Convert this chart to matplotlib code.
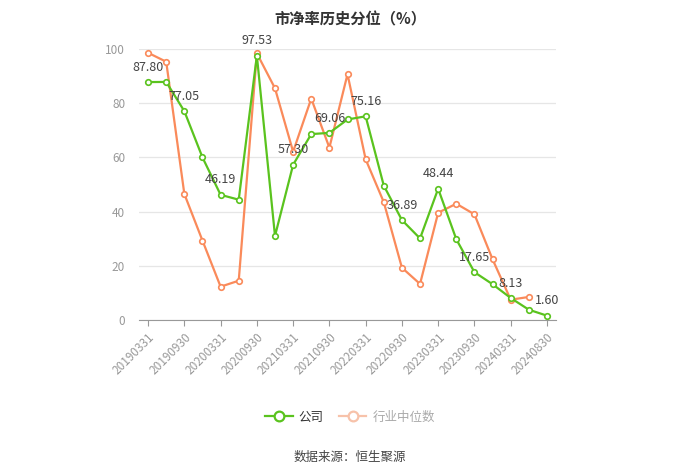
import numpy as np
import matplotlib
matplotlib.use("Agg")
import matplotlib.pyplot as plt
from matplotlib.lines import Line2D

plt.rcParams['font.family'] = ['Noto Sans CJK SC', 'DejaVu Sans']

dates = ["20190331", "20190630", "20190930", "20191231", "20200331", "20200630",
         "20200930", "20201231", "20210331", "20210630", "20210930", "20211231",
         "20220331", "20220630", "20220930", "20221231", "20230331", "20230630",
         "20230930", "20231231", "20240331", "20240630", "20240830"]
company = [87.80, 87.85, 77.05, 60.0, 46.19, 44.4, 97.53, 31.0, 57.30, 68.6, 69.06,
           74.0, 75.16, 49.6, 36.89, 30.1, 48.44, 29.8, 17.65, 13.2, 8.13, 3.8, 1.60]
industry = [98.6, 95.3, 46.5, 29.3, 12.3, 14.5, 98.4, 85.5, 62.1, 81.7, 63.6,
            90.7, 59.3, 43.5, 19.3, 13.3, 39.6, 42.9, 39.0, 22.4, 7.5, 8.5, np.nan]

green = "#5ac31e"
orange = "#fa8a5a"

fig = plt.figure(figsize=(7, 4.74), dpi=100)
ax = fig.add_axes([0.1986, 0.3249, 0.5957, 0.5717])

x = np.arange(len(dates))
ax.plot(x, industry, color=orange, lw=1.6, marker="o", ms=4, mfc="white",
        mec=orange, mew=1.2, zorder=3)
ax.plot(x, company, color=green, lw=1.6, marker="o", ms=4, mfc="white",
        mec=green, mew=1.2, zorder=4)

for i in range(0, len(company), 2):
    ax.annotate(f"{company[i]:.2f}", (x[i], company[i]), xytext=(0, 6),
                textcoords="offset points", ha="center", va="bottom",
                fontsize=9, color="#444444", zorder=5)

ax.set_xlim(-0.5, len(dates) - 0.5)
ax.set_ylim(0, 100)
ax.set_yticks([0, 20, 40, 60, 80, 100])
ax.set_xticks(x[::2])
ax.set_xticklabels(dates[::2], rotation=45, ha="right", rotation_mode="anchor")
ax.tick_params(axis="x", colors="#999999", labelsize=8.5, length=4, direction="out")
ax.tick_params(axis="y", colors="#999999", labelsize=8.5, length=0, pad=10)
ax.grid(axis="y", color="#e6e6e6", lw=0.9)
ax.set_axisbelow(True)
for s in ["left", "right", "top"]:
    ax.spines[s].set_visible(False)
ax.spines["bottom"].set_color("#999999")

fig.text(0.5, 0.975, "市净率历史分位（%）", ha="center", va="top",
         fontsize=11, fontweight="bold", color="#333333")

handles = [Line2D([], [], color=green, lw=1.6, marker="o", ms=7, mfc="white", mec=green, mew=1.6),
           Line2D([], [], color="#f7c2aa", lw=1.6, marker="o", ms=7, mfc="white", mec="#f7c2aa", mew=1.6)]
leg = fig.legend(handles, ["公司", "行业中位数"], loc="center", bbox_to_anchor=(0.5, 0.12),
                 ncol=2, frameon=False, fontsize=9, handlelength=2.2, columnspacing=1.2,
                 handletextpad=0.5)
leg.get_texts()[0].set_color("#333333")
leg.get_texts()[1].set_color("#aaaaaa")

fig.text(0.5, 0.035, "数据来源：恒生聚源", ha="center", va="center", fontsize=9, color="#444444")

fig.savefig("out.png", dpi=100)
